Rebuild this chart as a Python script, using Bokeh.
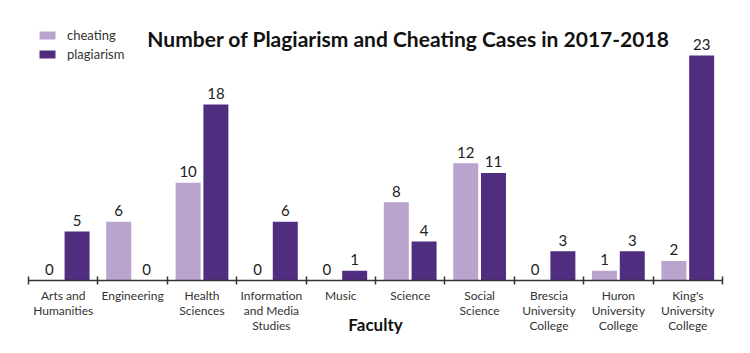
from bokeh.plotting import figure
from bokeh.models import Range1d, FixedTicker, Label, Legend, LegendItem, ColumnDataSource
from bokeh.embed import file_html
from bokeh.resources import INLINE

faculties = ["Arts and\nHumanities", "Engineering", "Health\nSciences", "Information\nand Media\nStudies",
             "Music", "Science", "Social\nScience", "Brescia\nUniversity\nCollege", "Huron\nUniversity\nCollege",
             "King's\nUniversity\nCollege"]
cheating = [0, 6, 10, 0, 0, 8, 12, 0, 1, 2]
plagiarism = [5, 0, 18, 6, 1, 4, 11, 3, 3, 23]

LIGHT = "#baa4cd"
DARK = "#4f2d7f"
FONT = "Lato"

n = len(faculties)
centers = [i + 0.5 for i in range(n)]

p = figure(width=750, height=353, output_backend="svg", toolbar_location=None,
           x_range=Range1d(0, n), y_range=Range1d(0, 28.63),
           min_border_left=28, min_border_right=28, min_border_top=0, min_border_bottom=73)
p.outline_line_color = None
p.grid.visible = False
p.yaxis.visible = False
p.background_fill_color = "white"
p.border_fill_color = "white"

src = ColumnDataSource(dict(
    xc=[c - 0.2 for c in centers], xp=[c + 0.2 for c in centers],
    cheating=cheating, plagiarism=plagiarism,
    tc=[str(v) for v in cheating], tp=[str(v) for v in plagiarism]))

rc = p.vbar(x="xc", top="cheating", width=0.36, source=src, fill_color=LIGHT, line_color=None)
rp = p.vbar(x="xp", top="plagiarism", width=0.36, source=src, fill_color=DARK, line_color=None)

for xcol, ycol, tcol in (("xc", "cheating", "tc"), ("xp", "plagiarism", "tp")):
    p.text(x=xcol, y=ycol, text=tcol, source=src, text_align="center", text_baseline="middle",
           y_offset=-11, text_font_size="15px", text_color="#222222", text_font={"value": FONT})

xa = p.xaxis[0]
xa.ticker = FixedTicker(ticks=centers, minor_ticks=list(range(n + 1)))
xa.major_label_overrides = {c: lab for c, lab in zip(centers, faculties)}
xa.major_tick_line_color = None
xa.major_tick_in = 0
xa.major_tick_out = 0
xa.minor_tick_in = 4
xa.minor_tick_out = 4
xa.minor_tick_line_color = "#333333"
xa.minor_tick_line_width = 1.5
xa.axis_line_color = "#333333"
xa.axis_line_width = 1.5
xa.major_label_standoff = 3
xa.major_label_text_font_size = "12px"
xa.major_label_text_line_height = 1.0
xa.major_label_text_color = "#333333"
xa.major_label_text_font = FONT
xa.axis_label = "Faculty"
xa.axis_label_standoff = -22
xa.axis_label_text_font = FONT
xa.axis_label_text_font_size = "17px"
xa.axis_label_text_font_style = "bold"
xa.axis_label_text_color = "#111111"

legend = Legend(items=[LegendItem(label="cheating", renderers=[rc]),
                       LegendItem(label="plagiarism", renderers=[rp])],
                location=(9, 218), padding=0, margin=0, spacing=3,
                glyph_width=20, glyph_height=10, label_height=15, label_standoff=10,
                label_text_font_size="13px", label_text_color="#333333", label_text_font=FONT,
                border_line_color=None, background_fill_alpha=0)
p.add_layout(legend)

p.add_layout(Label(x=380, y=280 - 38, x_units="screen", y_units="screen",
                   text="Number of Plagiarism and Cheating Cases in 2017-2018",
                   text_align="center", text_baseline="middle", text_font=FONT,
                   text_font_size="21px", text_font_style="bold", text_color="#111111"))

open("out.html", "w").write(file_html(p, INLINE))
